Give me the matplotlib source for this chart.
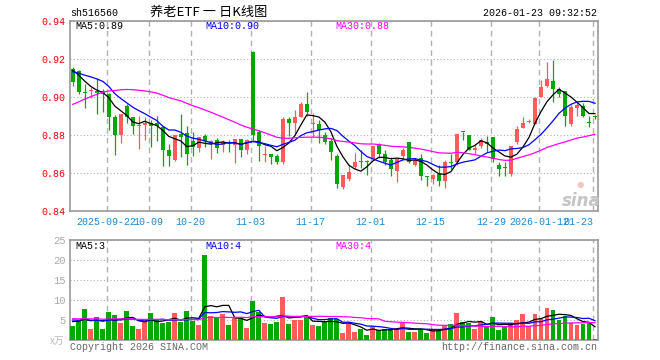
import matplotlib
matplotlib.use("Agg")
import matplotlib.pyplot as plt
import numpy as np
import pandas as pd

# daily candles, 2025-09-12 .. 2026-01-23 (88 trading days)
opens = [0.9147, 0.9137, 0.9025, 0.9030, 0.9032, 0.9032, 0.9014, 0.8895, 0.8800, 0.8954,
         0.8895, 0.8845, 0.8853, 0.8863, 0.8863, 0.8842, 0.8719, 0.8670, 0.8807, 0.8811,
         0.8768, 0.8733, 0.8796, 0.8754, 0.8775, 0.8747, 0.8761, 0.8747, 0.8779, 0.8723,
         0.9238, 0.8814, 0.8695, 0.8702, 0.8691, 0.8660, 0.8884, 0.8863, 0.8895, 0.8961,
         0.8856, 0.8860, 0.8800, 0.8768, 0.8691, 0.8526, 0.8570, 0.8632, 0.8660, 0.8660,
         0.8674, 0.8747, 0.8698, 0.8670, 0.8611, 0.8688, 0.8761, 0.8642, 0.8677, 0.8582,
         0.8568, 0.8593, 0.8558, 0.8656, 0.8656, 0.8818, 0.8800, 0.8723, 0.8744, 0.8761,
         0.8789, 0.8642, 0.8628, 0.8593, 0.8761, 0.8839, 0.8867, 0.8860, 0.9000, 0.9060,
         0.9084, 0.9042, 0.9032, 0.8860, 0.8944, 0.8954, 0.8868, 0.8898]
highs = [0.9158, 0.9144, 0.9070, 0.9050, 0.9102, 0.9040, 0.9020, 0.8905, 0.8910, 0.8965,
         0.8895, 0.8898, 0.8895, 0.8880, 0.8900, 0.8849, 0.8754, 0.8800, 0.8909, 0.8846,
         0.8818, 0.8789, 0.8803, 0.8775, 0.8786, 0.8772, 0.8772, 0.8779, 0.8780, 0.8779,
         0.9240, 0.8825, 0.8744, 0.8702, 0.8702, 0.8895, 0.8895, 0.8930, 0.8975, 0.9025,
         0.8916, 0.8877, 0.8818, 0.8782, 0.8702, 0.8589, 0.8647, 0.8705, 0.8720, 0.8667,
         0.8744, 0.8758, 0.8720, 0.8684, 0.8677, 0.8733, 0.8765, 0.8680, 0.8698, 0.8582,
         0.8596, 0.8642, 0.8667, 0.8698, 0.8807, 0.8818, 0.8800, 0.8747, 0.8782, 0.8793,
         0.8789, 0.8656, 0.8656, 0.8744, 0.8846, 0.8895, 0.8884, 0.9000, 0.9088, 0.9186,
         0.9196, 0.9053, 0.9032, 0.8958, 0.8968, 0.8968, 0.8898, 0.8905]
lows = [0.9060, 0.9014, 0.8940, 0.8997, 0.8910, 0.8920, 0.8828, 0.8695, 0.8758, 0.8863,
        0.8807, 0.8726, 0.8776, 0.8737, 0.8770, 0.8639, 0.8639, 0.8663, 0.8684, 0.8642,
        0.8688, 0.8709, 0.8737, 0.8674, 0.8705, 0.8712, 0.8712, 0.8653, 0.8684, 0.8702,
        0.8775, 0.8663, 0.8656, 0.8649, 0.8649, 0.8649, 0.8796, 0.8800, 0.8895, 0.8898,
        0.8789, 0.8758, 0.8751, 0.8667, 0.8519, 0.8516, 0.8556, 0.8621, 0.8625, 0.8589,
        0.8670, 0.8677, 0.8642, 0.8582, 0.8554, 0.8674, 0.8653, 0.8635, 0.8561, 0.8530,
        0.8544, 0.8533, 0.8523, 0.8621, 0.8642, 0.8772, 0.8720, 0.8698, 0.8730, 0.8709,
        0.8656, 0.8586, 0.8586, 0.8586, 0.8750, 0.8835, 0.8865, 0.8860, 0.9000, 0.9053,
        0.8972, 0.9000, 0.8846, 0.8846, 0.8898, 0.8895, 0.8842, 0.8884]
closes = [0.9077, 0.9028, 0.9023, 0.9033, 0.9020, 0.9015, 0.8895, 0.8800, 0.8909, 0.8895,
          0.8846, 0.8849, 0.8863, 0.8846, 0.8845, 0.8719, 0.8691, 0.8800, 0.8789, 0.8698,
          0.8737, 0.8789, 0.8768, 0.8768, 0.8733, 0.8761, 0.8757, 0.8779, 0.8723, 0.8775,
          0.8800, 0.8744, 0.8702, 0.8684, 0.8656, 0.8884, 0.8863, 0.8895, 0.8965, 0.8923,
          0.8863, 0.8828, 0.8761, 0.8712, 0.8540, 0.8589, 0.8603, 0.8660, 0.8656, 0.8656,
          0.8740, 0.8702, 0.8656, 0.8621, 0.8674, 0.8719, 0.8660, 0.8670, 0.8582, 0.8579,
          0.8589, 0.8558, 0.8656, 0.8653, 0.8807, 0.8814, 0.8723, 0.8730, 0.8775, 0.8754,
          0.8674, 0.8621, 0.8625, 0.8744, 0.8832, 0.8863, 0.8870, 0.8996, 0.9053, 0.9095,
          0.9042, 0.9018, 0.8898, 0.8947, 0.8958, 0.8898, 0.8865, 0.8895]
# volume, 万 shares
volumes = [3.5, 5.0, 7.75, 2.75, 5.75, 2.75, 7.0, 6.25, 4.25, 7.25,
           3.5, 2.75, 5.0, 6.75, 5.0, 4.25, 4.5, 6.75, 4.5, 7.25,
           4.75, 3.75, 21.25, 6.0, 5.75, 6.5, 3.75, 5.75, 5.5, 3.0,
           9.75, 7.1, 4.25, 4.1, 4.6, 10.75, 3.9, 4.9, 5.1, 5.9,
           3.75, 3.6, 4.5, 5.6, 5.3, 1.8, 4.2, 2.1, 2.8, 1.3,
           3.3, 2.5, 2.8, 2.8, 2.8, 4.3, 2.0, 2.0, 2.8, 1.7,
           2.8, 2.3, 3.7, 4.0, 6.8, 4.5, 4.2, 2.8, 4.8, 3.3,
           5.8, 2.5, 3.2, 4.2, 5.0, 6.5, 3.5, 6.5, 5.2, 8.0,
           7.5, 5.0, 6.0, 4.2, 3.8, 4.0, 4.2, 0.3]

# days before the first candle, only feed the moving averages
prior_closes = [0.862, 0.860, 0.864, 0.866, 0.867, 0.869, 0.874, 0.879, 0.884, 0.889,
                0.893, 0.897, 0.900, 0.903, 0.905, 0.908, 0.906, 0.904, 0.909, 0.911,
                0.910, 0.913, 0.912, 0.913, 0.914, 0.916, 0.918, 0.917, 0.912]
prior_volumes = [5.5, 6.0, 4.8, 5.2, 6.3, 5.0, 4.6, 5.9, 5.4, 6.1,
                 5.0, 5.6, 4.9, 5.8, 5.3, 6.2, 5.1, 5.5, 5.7, 5.4,
                 5.6, 5.3, 5.2, 5.5, 5.4, 4.7, 5.2, 4.6, 5.1]

tick_idx = [6, 13, 20, 30, 40, 50, 60, 70, 78, 87]
tick_labels = ["2025-09-22", "10-09", "10-20", "11-03", "11-17", "12-01",
               "12-15", "12-29", "2026-01-12", "01-23"]

RED = "#ff5b5b"
GREEN = "#00a800"
MONO = "Liberation Mono"
W, H = 660, 360

o = np.array(opens); c = np.array(closes)
hi = np.array(highs); lo = np.array(lows)
vol = np.array(volumes)
x = np.arange(len(c))
up = c >= o
cols = np.where(up, RED, GREEN)

n0 = len(prior_closes)
cs = pd.Series(prior_closes + closes)
vs = pd.Series(prior_volumes + volumes)
ma = {k: cs.rolling(k).mean().values[n0:] for k in (5, 10, 30)}
vma = {k: vs.rolling(k).mean().values[n0:] for k in (5, 10, 30)}
ma_cols = {5: "black", 10: "#0000ff", 30: "#ff00ff"}

fig = plt.figure(figsize=(W / 100, H / 100), dpi=100)
fig.patch.set_facecolor("white")


def box(l, t, r, b):
    return [l / W, 1 - b / H, (r - l) / W, (b - t) / H]


ax = fig.add_axes(box(70, 21, 598, 211))
axv = fig.add_axes(box(70, 240, 598, 340))

for a in (ax, axv):
    a.set_xlim(-0.45, 87.5)
    for s in a.spines.values():
        s.set_color("#999999")
        s.set_linewidth(1.2)
    a.set_xticks(np.array(tick_idx) - 0.35)
    a.grid(axis="x", color="#b0b0b0", lw=1.0, ls=(0, (4, 3)))
    a.grid(axis="y", color="#b0b0b0", lw=0.8, ls=(0, (1, 2)))
    a.set_axisbelow(True)
    a.tick_params(length=0)

# price panel
ax.set_ylim(0.84, 0.94)
ax.set_yticks([0.84, 0.86, 0.88, 0.90, 0.92, 0.94])
ax.set_yticklabels(["%.2f" % v for v in [0.84, 0.86, 0.88, 0.90, 0.92, 0.94]],
                   color="red", fontsize=7.2, family=MONO)
ax.tick_params(axis="y", pad=3)
xl = ax.set_xticklabels(tick_labels, color="#1a8ad4", fontsize=7.2, family=MONO)
xl[-1].set_ha("right")
ax.tick_params(axis="x", pad=4)

ax.vlines(x, lo, hi, colors=cols, lw=0.9, zorder=2)
body = np.maximum(np.abs(c - o), 0.0005)
ax.bar(x, body, bottom=np.minimum(o, c), width=0.7, color=cols, zorder=3)
for k in (5, 10, 30):
    ax.plot(x, ma[k], color=ma_cols[k], lw=0.9, zorder=4)

# volume panel
axv.set_ylim(0, 25)
axv.set_yticks([5, 10, 15, 20, 25])
axv.set_yticklabels(["5", "10", "15", "20", "25"], color="#aaaaaa",
                    fontsize=7.6, family=MONO)
axv.tick_params(axis="y", pad=3)
axv.set_xticklabels([])
axv.bar(x, vol, width=0.82, color=cols, zorder=3)
for k in (5, 10, 30):
    axv.plot(x, vma[k], color=ma_cols[k], lw=0.9, zorder=4)


def ftext(px, py, s, **kw):
    fig.text(px / W, 1 - py / H, s, va="center", **kw)


mono = dict(family=MONO, fontsize=7.2)
ftext(70, 13.5, "sh516560", color="black", **mono)
ftext(150, 12.5, "养老ETF 一 日K线图", color="black", fontsize=9.5,
      family=["Noto Sans CJK SC", "DejaVu Sans"])
ftext(597, 13.5, "2026-01-23 09:32:52", color="black", ha="right", **mono)

ftext(75, 26, "MA5:%.2f" % ma[5][-1], color="black", **mono)
ftext(205, 26, "MA10:%.2f" % ma[10][-1], color="#0000ff", **mono)
ftext(335, 26, "MA30:%.2f" % ma[30][-1], color="#ff00ff", **mono)

ftext(75, 246, "MA5:%d" % int(vma[5][-1]), color="black", **mono)
ftext(205, 246, "MA10:%d" % int(vma[10][-1]), color="#0000ff", **mono)
ftext(335, 246, "MA30:%d" % int(vma[30][-1]), color="#ff00ff", **mono)

ftext(64, 341, "x万", color="#bbbbbb", ha="right", fontsize=7,
      family=["Noto Sans CJK SC", "DejaVu Sans"])
ftext(70, 347, "Copyright 2026 SINA.COM", color="#666666", **mono)
ftext(597, 347, "http://finance.sina.com.cn", color="#666666", ha="right", **mono)

# sina watermark
ftext(581, 201, "sina", color="#c4c4c4", ha="center", fontsize=12,
      fontweight="bold", style="italic", family="DejaVu Sans")
ftext(580, 184, "●", color="#f4c4c4", ha="center", fontsize=6, family="DejaVu Sans")

fig.savefig("out.png", dpi=100)
